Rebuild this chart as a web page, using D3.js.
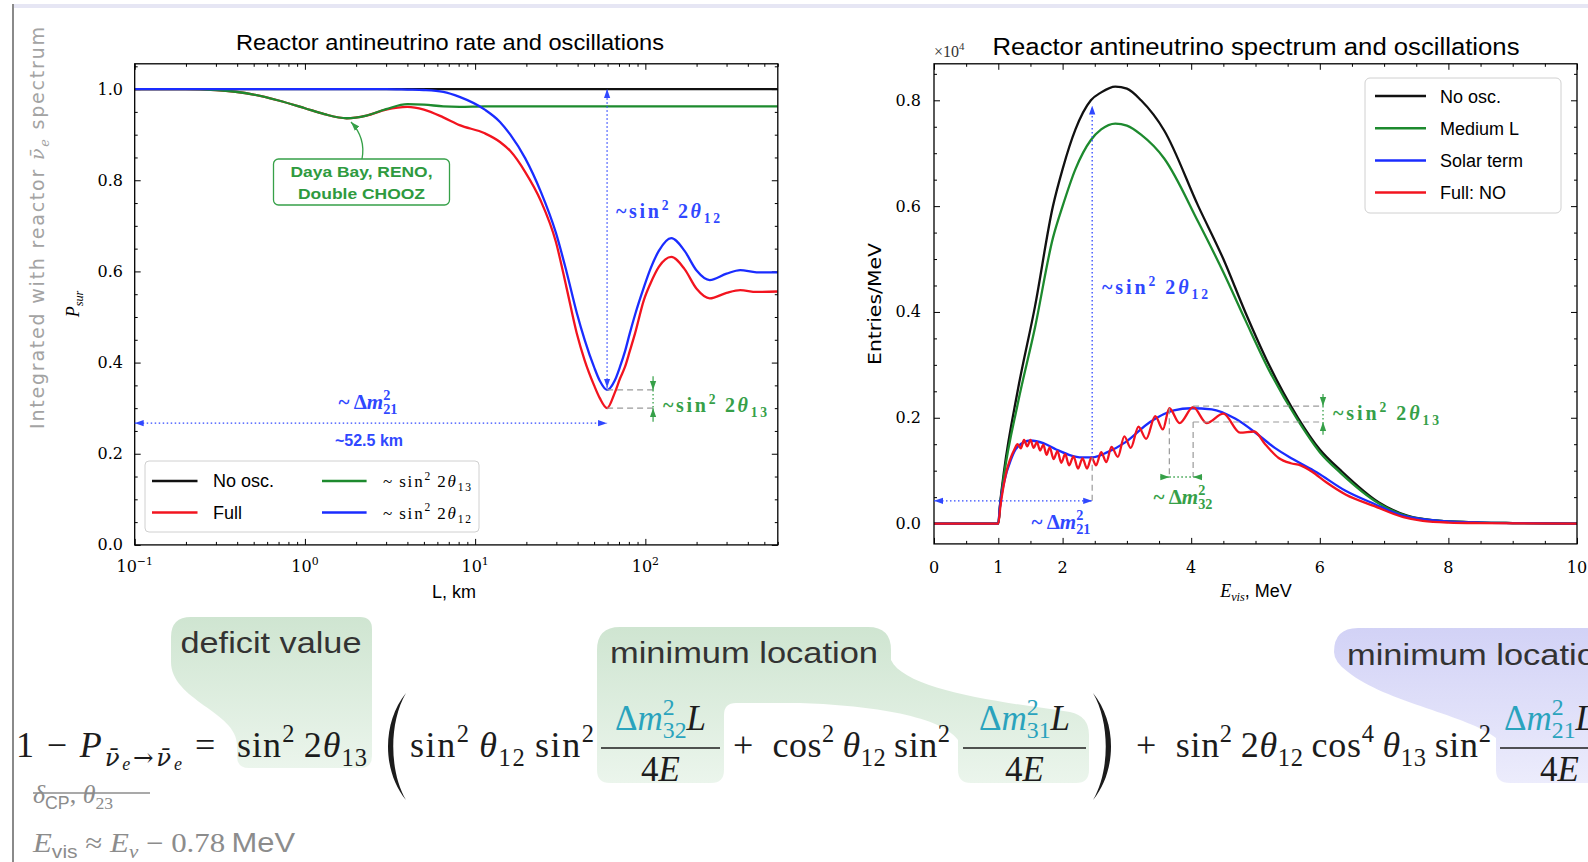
<!DOCTYPE html>
<html>
<head>
<meta charset="utf-8">
<script src="https://cdn.jsdelivr.net/npm/d3@7"></script>
<style>
  body { margin: 0; background: #fff; overflow: hidden; }
  text { white-space: pre; }
</style>
</head>
<body>
<svg id="fig" width="1588" height="862"></svg>
<script>
// ---------- left panel: survival probability vs baseline L (km)
var baselineKm = [0.1, 0.2, 0.3, 0.5, 0.7, 1.0, 1.3, 1.76, 2.3, 3.0, 4.0, 5.0, 6.5, 8.1, 11.4,
  14, 16.1, 19.7, 24.3, 29.8, 34.4, 39.5, 44, 50, 54, 59.6, 66, 71, 76, 81,
  87, 98, 107, 120, 142, 170, 200, 239, 300, 361, 450, 600];
var pNoOsc = [1, 1, 1, 1, 1, 1, 1, 1, 1, 1, 1, 1, 1, 1, 1, 1, 1, 1, 1, 1, 1,
  1, 1, 1, 1, 1, 1, 1, 1, 1, 1, 1, 1, 1, 1, 1, 1, 1, 1, 1, 1, 1];
var pFull = [1.0, 1.0, 0.998, 0.988, 0.975, 0.958, 0.945, 0.936, 0.942, 0.955,
  0.961, 0.955, 0.938, 0.921, 0.903, 0.884, 0.864, 0.818, 0.755, 0.665,
  0.565, 0.465, 0.405, 0.35, 0.322, 0.30, 0.333, 0.365, 0.391, 0.425,
  0.464, 0.537, 0.573, 0.61, 0.632, 0.605, 0.562, 0.541, 0.553, 0.559, 0.555, 0.556];
var pTheta13 = [1.0, 1.0, 0.998, 0.988, 0.975, 0.958, 0.945, 0.936, 0.942, 0.956,
  0.967, 0.966, 0.962, 0.961, 0.962, 0.962, 0.962, 0.962, 0.962, 0.962,
  0.962, 0.962, 0.962, 0.962, 0.962, 0.962, 0.962, 0.962, 0.962, 0.962,
  0.962, 0.962, 0.962, 0.962, 0.962, 0.962, 0.962, 0.962, 0.962, 0.962, 0.962, 0.962];
var pTheta12 = [1.0, 1.0, 1.0, 1.0, 1.0, 1.0, 1.0, 1.0, 1.0, 1.0,
  0.999, 0.998, 0.994, 0.983, 0.955, 0.928, 0.900, 0.848, 0.775, 0.685,
  0.60, 0.51, 0.45, 0.39, 0.36, 0.34, 0.36, 0.391, 0.425, 0.464,
  0.505, 0.565, 0.605, 0.645, 0.673, 0.645, 0.602, 0.581, 0.595, 0.603, 0.598, 0.598];
var leftXTicks = [0.1, 1, 10, 100];
var leftXExp = ["\u22121", "0", "1", "2"];
var leftYTicks = [0, 0.2, 0.4, 0.6, 0.8, 1.0];

// ---------- right panel: spectrum (x10^4 entries/MeV) vs E_vis (MeV)
var specE = [0, 1.0, 1.03, 1.09, 1.3, 1.57, 1.85, 2.0, 2.2, 2.44, 2.6, 2.82, 3.0, 3.22,
  3.58, 4.11, 4.5, 4.84, 5.21, 5.66, 6.0, 6.33, 6.92, 7.36, 7.88, 8.5, 9.0, 10];
var specNoOsc = [0, 0, 0.04, 0.10, 0.25, 0.41, 0.60, 0.67, 0.745, 0.80, 0.815, 0.826, 0.822, 0.80,
  0.743, 0.60, 0.50, 0.40, 0.30, 0.20, 0.14, 0.10, 0.04, 0.015, 0.005, 0.002, 0.001, 0];
var specMediumL = [0, 0, 0.037, 0.092, 0.225, 0.37, 0.54, 0.60, 0.67, 0.725, 0.745, 0.756, 0.752, 0.735,
  0.69, 0.57, 0.475, 0.385, 0.29, 0.195, 0.135, 0.095, 0.038, 0.014, 0.005, 0.002, 0.001, 0];
var solarE = [0, 1.0, 1.02, 1.09, 1.2, 1.3, 1.5, 1.7, 1.9, 2.1, 2.3, 2.46, 2.7, 2.98, 3.36,
  3.73, 4.0, 4.32, 4.69, 5.06, 5.3, 5.58, 5.95, 6.4, 6.85, 7.29, 7.88, 8.5, 10];
var specSolar = [0, 0, 0.027, 0.078, 0.122, 0.145, 0.157, 0.152, 0.14, 0.13, 0.125, 0.125, 0.135, 0.154, 0.192,
  0.214, 0.218, 0.216, 0.198, 0.166, 0.143, 0.122, 0.097, 0.062, 0.037, 0.015, 0.005, 0.002, 0];
var fullE = [0, 1.0, 1.03, 1.08, 1.13, 1.18, 1.25, 1.30, 1.35, 1.40, 1.45, 1.50, 1.55, 1.60, 1.65,
  1.70, 1.75, 1.80, 1.86, 1.92, 1.98, 2.04, 2.10, 2.17, 2.24, 2.31, 2.38, 2.45, 2.52, 2.60,
  2.68, 2.76, 2.86, 2.96, 3.06, 3.18, 3.30, 3.44, 3.56, 3.66, 3.82, 4.03, 4.24, 4.50, 4.76,
  4.98, 5.15, 5.36, 5.55, 5.70, 5.88, 6.10, 6.40, 6.85, 7.30, 7.60, 8.0, 8.5, 10];
var specFull = [0, 0, 0.03, 0.07, 0.10, 0.12, 0.14, 0.15, 0.142, 0.158, 0.146, 0.158, 0.143, 0.154, 0.138,
  0.149, 0.13, 0.144, 0.122, 0.137, 0.115, 0.131, 0.11, 0.127, 0.104, 0.123, 0.104, 0.125, 0.11, 0.135,
  0.116, 0.145, 0.126, 0.165, 0.143, 0.183, 0.16, 0.203, 0.178, 0.218, 0.19, 0.22, 0.19, 0.208, 0.172,
  0.174, 0.15, 0.124, 0.114, 0.110, 0.098, 0.078, 0.055, 0.033, 0.012, 0.005, 0.002, 0.001, 0];
var rightXTicks = [0, 1, 2, 4, 6, 8, 10];
var rightYTicks = [0, 0.2, 0.4, 0.6, 0.8];

var leftLegend = [["No osc.", "#111111"], ["Full", "#f2141f"]];
var rightLegend = ["No osc.", "Medium L", "Solar term", "Full: NO"];

// ---------- styling
var SERIF = "'Liberation Serif','Times New Roman',serif";
var DSERIF = "'DejaVu Serif',serif";
var SANS = "'Liberation Sans','DejaVu Sans',sans-serif";
var DSANS = "'DejaVu Sans',sans-serif";
var BLACK = "#111111", RED = "#f2141f", GREEN = "#1d8a2e", BLUE = "#1a2cff";
var ABLUE = "#3048ff", AGREEN = "#36a048", TEAL = "#2aa3bd", GREY = "#8c8c8c";

var svg = d3.select("#fig");
var defs = svg.append("defs");

function vgrad(id, c1, c2) {
  var g = defs.append("linearGradient").attr("id", id)
    .attr("x1", 0).attr("y1", 0).attr("x2", 0).attr("y2", 1);
  g.append("stop").attr("offset", 0).attr("stop-color", c1);
  g.append("stop").attr("offset", 1).attr("stop-color", c2);
}
vgrad("gGreen", "#cfe5d1", "#ebf5ec");
vgrad("gPurple", "#d2d2f6", "#ececfc");

function marker(id, color) {
  defs.append("marker").attr("id", id)
    .attr("viewBox", "0 0 10 10").attr("refX", 10).attr("refY", 5)
    .attr("markerUnits", "userSpaceOnUse").attr("markerWidth", 9).attr("markerHeight", 9)
    .attr("orient", "auto-start-reverse")
    .append("path").attr("d", "M0,1.5L10,5L0,8.5Z").attr("fill", color);
}
marker("ahB", ABLUE);
marker("ahG", AGREEN);

// little math-text helper: parts are {t, k, i, c, f}
var LV = { n: [0, 1], sup: [-0.42, 0.68], sub: [0.24, 0.68], subb: [0.24, 0.68], ssub: [0.36, 0.5] };
function n(t, o) { return Object.assign({ t: t, k: "n" }, o || {}); }
function it(t, o) { return Object.assign({ t: t, k: "n", i: 1 }, o || {}); }
function sp(t, o) { return Object.assign({ t: t, k: "sup" }, o || {}); }
function sb(t, o) { return Object.assign({ t: t, k: "sub" }, o || {}); }
function sbb(t, o) { return Object.assign({ t: t, k: "subb" }, o || {}); }
function ssb(t, o) { return Object.assign({ t: t, k: "ssub" }, o || {}); }

function mt(parent, x, y, fs, parts, opt) {
  opt = opt || {};
  var t = parent.append("text").attr("x", x).attr("y", y)
    .attr("font-size", fs).attr("font-family", opt.family || SERIF)
    .attr("fill", opt.fill || "#000");
  if (opt.anchor) t.attr("text-anchor", opt.anchor);
  if (opt.len) t.attr("textLength", opt.len).attr("lengthAdjust", opt.adjust || "spacing");
  if (opt.weight) t.attr("font-weight", opt.weight);
  if (opt.transform) t.attr("transform", opt.transform);
  var off = 0, supW = 0;
  parts.forEach(function(p) {
    var lv = LV[p.k];
    var ts = t.append("tspan").attr("dy", (lv[0] - off) * fs).text(p.t);
    off = lv[0];
    if (lv[1] !== 1) ts.attr("font-size", fs * lv[1]);
    if (p.k === "subb") ts.attr("dx", -supW);
    if (p.k === "sup") supW = fs * lv[1] * 0.5 * p.t.length;
    if (p.i) ts.attr("font-style", "italic");
    if (p.c) ts.attr("fill", p.c);
    if (p.f) ts.attr("font-family", p.f);
  });
  return t;
}

// ---------- slide frame
svg.append("rect").attr("x", 13).attr("y", 4).attr("width", 1575).attr("height", 4).attr("fill", "#e6e6f4");
svg.append("line").attr("x1", 13).attr("x2", 13).attr("y1", 4).attr("y2", 862)
  .attr("stroke", "#8a8a8a").attr("stroke-width", 2);

// ---------- highlight blobs behind the formula
var blobs = svg.append("g");
blobs.append("path").attr("fill", "url(#gGreen)")
  .attr("d", "M171,637 Q171,617 191,617 H360 Q372,617 372,629 V756 Q372,768 360,768 H249 Q237,768 237,756 V745 C237,712 171,700 171,662 Z");
blobs.append("path").attr("fill", "url(#gGreen)")
  .attr("d", "M597,650 Q597,627 620,627 H868 Q891,627 891,650 V660 C905,690 1000,702 1070,712 Q1089,716 1089,735 V770 Q1089,783 1076,783 H971 Q958,783 958,770 V740 C940,714 860,705 800,703 H736 Q724,703 724,715 V770 Q724,783 711,783 H610 Q597,783 597,770 Z");
blobs.append("path").attr("fill", "url(#gPurple)")
  .attr("d", "M1334,652 Q1334,628 1358,628 H1600 V783 H1510 Q1496,783 1496,770 V738 C1470,716 1385,702 1348,672 Q1334,662 1334,652 Z");

var EQ = "#1c1c1c";
mt(blobs, 271, 653, 30, [n("deficit value")], { family: SANS, fill: "#333", anchor: "middle", len: 181, adjust: "spacingAndGlyphs" });
mt(blobs, 610, 663, 30, [n("minimum location")], { family: SANS, fill: "#333", len: 268, adjust: "spacingAndGlyphs" });
mt(blobs, 1347, 665, 30, [n("minimum location")], { family: SANS, fill: "#333", len: 268, adjust: "spacingAndGlyphs" });

// ---------- formula
var eq = svg.append("g").attr("fill", EQ);
mt(eq, 16, 757, 36, [n("1\u2009\u2212\u2009"), it("P"),
  sb("\u03bd\u0304", { i: 1, f: DSERIF }), ssb("e", { i: 1 }), sb("\u2192\u03bd\u0304", { i: 1, f: DSERIF }), ssb("e", { i: 1 })],
  { fill: EQ, len: 166 });
mt(eq, 195, 757, 36, [n("=")], { fill: EQ });
mt(eq, 237, 757, 36, [n("sin"), sp("2"), n("\u20092"), it("\u03b8"), sb("13")], { fill: EQ, len: 130 });
mt(eq, 410, 757, 36, [n("sin"), sp("2"), n("\u2009"), it("\u03b8"), sb("12"), n("\u2009sin"), sp("2")], { fill: EQ, len: 184 });
mt(eq, 733, 757, 36, [n("+\u2002cos"), sp("2"), n("\u2009"), it("\u03b8"), sb("12"), n("\u2009sin"), sp("2")], { fill: EQ, len: 217 });
mt(eq, 1136, 757, 36, [n("+\u2002sin"), sp("2"), n("\u20092"), it("\u03b8"), sb("12"), n("\u2009cos"), sp("4"),
  n("\u2009"), it("\u03b8"), sb("13"), n("\u2009sin"), sp("2")], { fill: EQ, len: 355 });

function frac(x0, x1, pair, centred) {
  eq.append("line").attr("x1", x0).attr("x2", x1).attr("y1", 748).attr("y2", 748)
    .attr("stroke", EQ).attr("stroke-width", 1.6);
  var num = [n("\u0394", { c: TEAL }), it("m", { c: TEAL }), sp("2", { c: TEAL }), sbb(pair, { c: TEAL }), it("L")];
  if (centred) mt(eq, (x0 + x1) / 2, 730, 35, num, { anchor: "middle", fill: EQ });
  else mt(eq, x0 + 4, 730, 35, num, { fill: EQ });
  mt(eq, centred ? (x0 + x1) / 2 : x0 + 40, 781, 35, [n("4"), it("E")], { anchor: centred ? "middle" : null, fill: EQ });
}
frac(601, 720, "32", true);
frac(963, 1086, "31", true);
frac(1500, 1620, "21", false);

// big parentheses
eq.append("path").attr("d", "M406,693 C382,722 382,771 406,800 C389,771 389,722 406,693 Z").attr("fill", EQ);
eq.append("path").attr("d", "M1093,693 C1117,722 1117,771 1093,800 C1110,771 1110,722 1093,693 Z").attr("fill", EQ);

// side notes
var note = svg.append("g");
mt(note, 33, 803, 26, [it("\u03b4"), sb("CP", { f: SANS }), n(", "), it("\u03b8"), sb("23")], { fill: GREY });
note.append("line").attr("x1", 33).attr("x2", 150).attr("y1", 793).attr("y2", 793)
  .attr("stroke", GREY).attr("stroke-width", 1.3);
mt(note, 33, 852, 27, [it("E"), sb("vis", { f: SANS }), n(" \u2248 "), it("E"), sb("\u03bd", { i: 1 }),
  n(" \u2212 0.78"), n("\u2009MeV", { f: SANS })], { fill: GREY, len: 262, adjust: "spacingAndGlyphs" });

// ---------- shared axis helpers
function ticks(g, axis, tx, ty, vals, len) {
  g.append("g").attr("transform", "translate(" + tx + "," + ty + ")")
    .call(axis.tickValues(vals).tickSize(-len).tickFormat(""))
    .call(function(s) {
      s.select(".domain").remove();
      s.selectAll("line").attr("stroke", "#000").attr("stroke-width", 1);
    });
}
function frameRect(g, x0, x1, y0, y1) {
  g.append("rect").attr("x", x0).attr("y", y0).attr("width", x1 - x0).attr("height", y1 - y0)
    .attr("fill", "none").attr("stroke", "#000").attr("stroke-width", 1.3);
}
function dotted(g, x1, y1, x2, y2, color, ms, me) {
  var l = g.append("line").attr("x1", x1).attr("y1", y1).attr("x2", x2).attr("y2", y2)
    .attr("stroke", color).attr("stroke-width", 1.3).attr("stroke-dasharray", "1.5,2.5");
  if (ms) l.attr("marker-start", "url(#" + ms + ")");
  if (me) l.attr("marker-end", "url(#" + me + ")");
  return l;
}
function dashed(g, x1, y1, x2, y2) {
  g.append("line").attr("x1", x1).attr("y1", y1).attr("x2", x2).attr("y2", y2)
    .attr("stroke", "#9a9a9a").attr("stroke-width", 1.2).attr("stroke-dasharray", "6,4");
}
function headOnly(g, x1, y1, x2, y2, m) {
  g.append("line").attr("x1", x1).attr("y1", y1).attr("x2", x2).attr("y2", y2)
    .attr("stroke", AGREEN).attr("stroke-width", 1.2).attr("marker-end", "url(#" + m + ")");
}

// =================== LEFT PANEL ===================
var xL = d3.scaleLog().domain([0.1, 600]).range([134.7, 777.8]);
var yL = d3.scaleLinear().domain([0, 1.0555]).range([544.9, 63.8]);
var gL = svg.append("g");
defs.append("clipPath").attr("id", "clipL").append("rect")
  .attr("x", 134.7).attr("y", 63.8).attr("width", 777.8 - 134.7).attr("height", 544.9 - 63.8);

var minorL = [];
[0.1, 1, 10, 100].forEach(function(d) {
  for (var k = 2; k <= 9; k++) if (d * k <= 600) minorL.push(d * k);
});
var minorLY = d3.range(1, 22).map(function(i) { return i * 0.05; }).filter(function(v) { return Math.abs(v * 5 - Math.round(v * 5)) > 1e-6; });
ticks(gL, d3.axisBottom(xL), 0, 544.9, leftXTicks, 6);
ticks(gL, d3.axisBottom(xL), 0, 544.9, minorL, 3);
ticks(gL, d3.axisTop(xL), 0, 63.8, leftXTicks, 6);
ticks(gL, d3.axisTop(xL), 0, 63.8, minorL, 3);
ticks(gL, d3.axisLeft(yL), 134.7, 0, leftYTicks, 6);
ticks(gL, d3.axisLeft(yL), 134.7, 0, minorLY, 3);
ticks(gL, d3.axisRight(yL), 777.8, 0, leftYTicks, 6);
ticks(gL, d3.axisRight(yL), 777.8, 0, minorLY, 3);

leftXTicks.forEach(function(v, i) {
  mt(gL, xL(v), 572, 16, [n("10"), sp(leftXExp[i])], { family: DSERIF, anchor: "middle" });
});
leftYTicks.forEach(function(v) {
  mt(gL, 123, yL(v) + 5.5, 16, [n(v.toFixed(1))], { family: DSERIF, anchor: "end" });
});

var lineL = d3.line().x(function(d) { return xL(d[0]); }).y(function(d) { return yL(d[1]); })
  .curve(d3.curveMonotoneX);
var curvesL = gL.append("g").attr("clip-path", "url(#clipL)");
[[pNoOsc, BLACK], [pFull, RED], [pTheta13, GREEN], [pTheta12, BLUE]].forEach(function(s) {
  curvesL.append("path").datum(d3.zip(baselineKm, s[0])).attr("d", lineL)
    .attr("fill", "none").attr("stroke", s[1]).attr("stroke-width", 2.3);
});
frameRect(gL, 134.7, 777.8, 63.8, 544.9);

// labels
mt(gL, 450, 50, 22, [n("Reactor antineutrino rate and oscillations")], { family: SANS, anchor: "middle", len: 428, adjust: "spacingAndGlyphs" });
mt(gL, 454, 598, 18, [n("L, km")], { family: SANS, anchor: "middle" });
mt(gL, 0, 0, 18, [it("P"), sb("sur", { i: 1 })], { anchor: "middle", transform: "translate(79,304) rotate(-90)" });
mt(svg, 0, 0, 19, [n("Integrated with reactor "), it("\u03bd\u0304", { f: DSERIF }), sb("e", { i: 1, f: DSERIF }), n(" spectrum")],
  { family: DSANS, fill: "#a3a3a3", anchor: "middle", len: 402, transform: "translate(44,228) rotate(-90)" });

// annotations
var Lmin = 59.6;
dotted(gL, xL(Lmin), yL(0.345), xL(Lmin), yL(1.0), ABLUE, "ahB", "ahB");
dotted(gL, xL(0.1), yL(0.267), xL(Lmin), yL(0.267), ABLUE, "ahB", "ahB");
mt(gL, 616, 218, 20, [n("~sin"), sp("2"), n("\u20092"), it("\u03b8"), sb("12")], { fill: ABLUE, weight: "bold", len: 104 });
mt(gL, 368, 409, 21, [n("~\u2009\u0394"), it("m"), sp("2"), sbb("21")], { fill: ABLUE, anchor: "middle", weight: "bold" });
mt(gL, 369, 446, 16, [n("~52.5 km")], { family: SANS, fill: ABLUE, anchor: "middle", weight: "bold" });
dashed(gL, xL(Lmin), yL(0.34), xL(111), yL(0.34));
dashed(gL, xL(Lmin), yL(0.30), xL(111), yL(0.30));
dotted(gL, xL(111), yL(0.34), xL(111), yL(0.30), AGREEN);
headOnly(gL, xL(111), yL(0.37), xL(111), yL(0.34), "ahG");
headOnly(gL, xL(111), yL(0.27), xL(111), yL(0.30), "ahG");
mt(gL, 663, 412, 20, [n("~sin"), sp("2"), n("\u20092"), it("\u03b8"), sb("13")], { fill: AGREEN, weight: "bold", len: 104 });

// Daya Bay box
gL.append("path").attr("d", "M362,159 Q366,138 351,122").attr("fill", "none")
  .attr("stroke", AGREEN).attr("stroke-width", 1.3).attr("marker-end", "url(#ahG)");
gL.append("rect").attr("x", 273.5).attr("y", 159).attr("width", 176).attr("height", 46).attr("rx", 5)
  .attr("fill", "#fff").attr("stroke", AGREEN).attr("stroke-width", 1.3);
mt(gL, 361.5, 177, 15, [n("Daya Bay, RENO,")], { family: SANS, fill: "#2e9a3e", weight: "bold", anchor: "middle", len: 142, adjust: "spacingAndGlyphs" });
mt(gL, 361.5, 199, 15, [n("Double CHOOZ")], { family: SANS, fill: "#2e9a3e", weight: "bold", anchor: "middle", len: 127, adjust: "spacingAndGlyphs" });

// legend
var lgL = gL.append("g");
lgL.append("rect").attr("x", 145).attr("y", 461).attr("width", 334).attr("height", 71).attr("rx", 4)
  .attr("fill", "#fff").attr("fill-opacity", 0.85).attr("stroke", "#d0d0d0");
leftLegend.forEach(function(e, i) {
  var y = 481 + i * 31.5;
  lgL.append("line").attr("x1", 152).attr("x2", 197.5).attr("y1", y).attr("y2", y).attr("stroke", e[1]).attr("stroke-width", 2.5);
  mt(lgL, 213, y + 6, 18, [n(e[0])], { family: SANS });
});
[["13", GREEN], ["12", BLUE]].forEach(function(e, i) {
  var y = 481 + i * 31.5;
  lgL.append("line").attr("x1", 322).attr("x2", 366.6).attr("y1", y).attr("y2", y).attr("stroke", e[1]).attr("stroke-width", 2.5);
  mt(lgL, 383, y + 6, 17, [n("~\u2009sin"), sp("2"), n("\u20092"), it("\u03b8"), sb(e[0])], { len: 88 });
});

// =================== RIGHT PANEL ===================
var xR = d3.scaleLinear().domain([0, 10]).range([934, 1577]);
var yR = d3.scaleLinear().domain([-0.0384, 0.869]).range([543.9, 63.8]);
var gR = svg.append("g");
defs.append("clipPath").attr("id", "clipR").append("rect")
  .attr("x", 934).attr("y", 63.8).attr("width", 643).attr("height", 543.9 - 63.8);

var minorRX = d3.range(0, 21).map(function(i) { return i * 0.5; }).filter(function(v) { return rightXTicks.indexOf(v) < 0; });
var minorRY = d3.range(0, 18).map(function(i) { return i * 0.05; }).filter(function(v) { return Math.abs(v * 5 - Math.round(v * 5)) > 1e-6; });
ticks(gR, d3.axisBottom(xR), 0, 543.9, rightXTicks, 6);
ticks(gR, d3.axisBottom(xR), 0, 543.9, minorRX, 3);
ticks(gR, d3.axisTop(xR), 0, 63.8, rightXTicks, 6);
ticks(gR, d3.axisTop(xR), 0, 63.8, minorRX, 3);
ticks(gR, d3.axisLeft(yR), 934, 0, rightYTicks, 6);
ticks(gR, d3.axisLeft(yR), 934, 0, minorRY, 3);
ticks(gR, d3.axisRight(yR), 1577, 0, rightYTicks, 6);
ticks(gR, d3.axisRight(yR), 1577, 0, minorRY, 3);

rightXTicks.forEach(function(v) {
  mt(gR, xR(v), 573, 16, [n(String(v))], { family: DSERIF, anchor: "middle" });
});
rightYTicks.forEach(function(v) {
  mt(gR, 921, yR(v) + 5.5, 16, [n(v.toFixed(1))], { family: DSERIF, anchor: "end" });
});

var lineR = d3.line().x(function(d) { return xR(d[0]); }).y(function(d) { return yR(d[1]); })
  .curve(d3.curveMonotoneX);
var curvesR = gR.append("g").attr("clip-path", "url(#clipR)");
[[specE, specNoOsc, BLACK], [specE, specMediumL, GREEN], [solarE, specSolar, BLUE], [fullE, specFull, RED]].forEach(function(s) {
  curvesR.append("path").datum(d3.zip(s[0], s[1])).attr("d", lineR)
    .attr("fill", "none").attr("stroke", s[2]).attr("stroke-width", 2.3);
});
frameRect(gR, 934, 1577, 63.8, 543.9);

mt(gR, 1256, 55, 23, [n("Reactor antineutrino spectrum and oscillations")], { family: SANS, anchor: "middle", len: 527, adjust: "spacingAndGlyphs" });
mt(gR, 934, 57, 16, [n("\u00d710"), sp("4")], { family: SERIF, fill: "#333" });
mt(gR, 1256, 597, 18, [it("E", { f: SERIF }), sb("vis", { i: 1, f: SERIF }), n(", MeV")], { family: SANS, anchor: "middle" });
mt(gR, 0, 0, 17, [n("Entries/MeV")], { family: DSANS, anchor: "middle", len: 122, adjust: "spacingAndGlyphs", transform: "translate(881,304) rotate(-90)" });

// annotations
var E21 = 2.46;
dashed(gR, xR(E21), yR(0.043), xR(E21), yR(0.125));
dotted(gR, xR(E21), yR(0.125), xR(E21), yR(0.79), ABLUE, null, "ahB");
dotted(gR, xR(0), yR(0.043), xR(E21), yR(0.043), ABLUE, "ahB", "ahB");
mt(gR, 1102, 294, 20, [n("~sin"), sp("2"), n("\u20092"), it("\u03b8"), sb("12")], { fill: ABLUE, weight: "bold", len: 106 });
mt(gR, 1061, 529, 21, [n("~\u2009\u0394"), it("m"), sp("2"), sbb("21")], { fill: ABLUE, anchor: "middle", weight: "bold" });

dashed(gR, xR(3.66), yR(0.218), xR(3.66), yR(0.088));
dashed(gR, xR(4.03), yR(0.192), xR(4.03), yR(0.088));
dotted(gR, xR(3.66), yR(0.088), xR(4.03), yR(0.088), AGREEN);
headOnly(gR, xR(3.52), yR(0.088), xR(3.66), yR(0.088), "ahG");
headOnly(gR, xR(4.17), yR(0.088), xR(4.03), yR(0.088), "ahG");
mt(gR, 1183, 504, 21, [n("~\u2009\u0394"), it("m"), sp("2"), sbb("32")], { fill: AGREEN, anchor: "middle", weight: "bold" });

dashed(gR, xR(4.03), yR(0.222), xR(6.05), yR(0.222));
dashed(gR, xR(4.03), yR(0.192), xR(6.05), yR(0.192));
dotted(gR, xR(6.05), yR(0.222), xR(6.05), yR(0.192), AGREEN);
headOnly(gR, xR(6.05), yR(0.245), xR(6.05), yR(0.222), "ahG");
headOnly(gR, xR(6.05), yR(0.168), xR(6.05), yR(0.192), "ahG");
mt(gR, 1333, 420, 20, [n("~sin"), sp("2"), n("\u20092"), it("\u03b8"), sb("13")], { fill: AGREEN, weight: "bold", len: 106 });

// legend
var lgR = gR.append("g");
lgR.append("rect").attr("x", 1365).attr("y", 78).attr("width", 196).attr("height", 135).attr("rx", 5)
  .attr("fill", "#fff").attr("fill-opacity", 0.85).attr("stroke", "#d0d0d0");
[BLACK, GREEN, BLUE, RED].forEach(function(c, i) {
  var y = 96 + i * 32.2;
  lgR.append("line").attr("x1", 1375).attr("x2", 1426).attr("y1", y).attr("y2", y).attr("stroke", c).attr("stroke-width", 2.5);
  mt(lgR, 1440, y + 6.5, 18, [n(rightLegend[i])], { family: SANS });
});
</script>
</body>
</html>
